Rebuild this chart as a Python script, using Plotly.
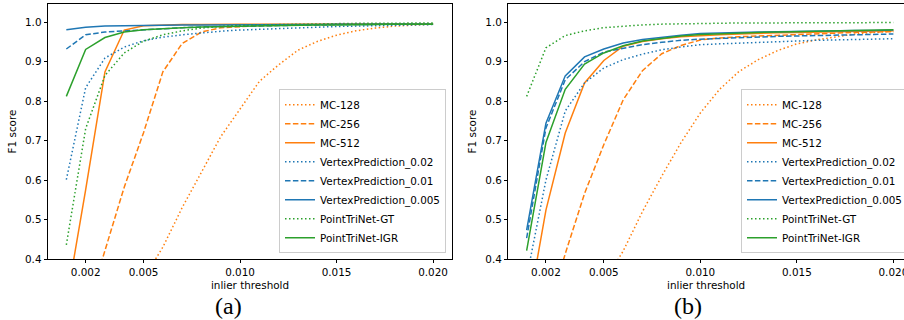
import plotly.graph_objects as go

# ---------------- data ----------------
thresholds = [0.001, 0.002, 0.003, 0.004, 0.005, 0.006, 0.007, 0.008, 0.009, 0.010,
              0.011, 0.012, 0.013, 0.014, 0.015, 0.016, 0.017, 0.018, 0.019, 0.020]

x_tick_vals = [0.002, 0.005, 0.010, 0.015, 0.020]
x_tick_text = ["0.002", "0.005", "0.010", "0.015", "0.020"]
y_tick_vals = [0.4, 0.5, 0.6, 0.7, 0.8, 0.9, 1.0]
y_tick_text = ["0.4", "0.5", "0.6", "0.7", "0.8", "0.9", "1.0"]

series_names = ["MC-128", "MC-256", "MC-512", "VertexPrediction_0.02",
                "VertexPrediction_0.01", "VertexPrediction_0.005",
                "PointTriNet-GT", "PointTriNet-IGR"]

# panel (a)
a_mc128 = [0.09, 0.14, 0.20, 0.27, 0.35, 0.43, 0.53, 0.62, 0.71, 0.78,
           0.85, 0.892, 0.929, 0.951, 0.967, 0.978, 0.985, 0.990, 0.993, 0.995]
a_mc256 = [0.10, 0.26, 0.422, 0.582, 0.72, 0.874, 0.946, 0.975, 0.986, 0.989,
           0.991, 0.992, 0.993, 0.994, 0.994, 0.995, 0.995, 0.995, 0.996, 0.996]
a_mc512 = [0.29, 0.575, 0.874, 0.980, 0.991, 0.993, 0.994, 0.994, 0.995, 0.995,
           0.995, 0.995, 0.995, 0.995, 0.995, 0.995, 0.996, 0.996, 0.996, 0.996]
a_vp002 = [0.601, 0.834, 0.909, 0.937, 0.953, 0.962, 0.968, 0.973, 0.977, 0.980,
           0.982, 0.984, 0.986, 0.988, 0.989, 0.990, 0.991, 0.992, 0.993, 0.994]
a_vp001 = [0.932, 0.968, 0.975, 0.978, 0.981, 0.984, 0.986, 0.988, 0.989, 0.990,
           0.991, 0.992, 0.993, 0.993, 0.994, 0.994, 0.995, 0.995, 0.995, 0.995]
a_vp0005 = [0.981, 0.987, 0.990, 0.991, 0.992, 0.992, 0.993, 0.993, 0.993, 0.994,
            0.994, 0.994, 0.994, 0.994, 0.995, 0.995, 0.995, 0.995, 0.995, 0.995]
a_ptn_gt = [0.436, 0.73, 0.865, 0.922, 0.952, 0.968, 0.978, 0.985, 0.989, 0.992,
            0.993, 0.994, 0.995, 0.996, 0.996, 0.997, 0.997, 0.997, 0.998, 0.998]
a_ptn_igr = [0.812, 0.931, 0.961, 0.975, 0.981, 0.984, 0.986, 0.988, 0.989, 0.990,
             0.991, 0.992, 0.992, 0.993, 0.993, 0.994, 0.994, 0.995, 0.995, 0.995]

# panel (b)
b_mc128 = [0.09, 0.14, 0.20, 0.27, 0.34, 0.42, 0.52, 0.61, 0.695, 0.77,
           0.83, 0.875, 0.905, 0.928, 0.945, 0.955, 0.963, 0.970, 0.974, 0.977]
b_mc256 = [0.09, 0.25, 0.413, 0.566, 0.69, 0.803, 0.877, 0.92, 0.941, 0.955,
           0.960, 0.963, 0.965, 0.967, 0.969, 0.971, 0.972, 0.974, 0.975, 0.976]
b_mc512 = [0.248, 0.524, 0.719, 0.846, 0.903, 0.939, 0.951, 0.958, 0.963, 0.966,
           0.968, 0.970, 0.972, 0.973, 0.974, 0.975, 0.976, 0.977, 0.977, 0.978]
b_vp002 = [0.353, 0.60, 0.775, 0.846, 0.884, 0.905, 0.919, 0.930, 0.937, 0.943,
           0.945, 0.947, 0.949, 0.951, 0.952, 0.954, 0.955, 0.956, 0.957, 0.958]
b_vp001 = [0.453, 0.732, 0.854, 0.900, 0.924, 0.934, 0.943, 0.949, 0.954, 0.957,
           0.959, 0.961, 0.962, 0.964, 0.965, 0.966, 0.967, 0.968, 0.969, 0.970]
b_vp0005 = [0.473, 0.744, 0.864, 0.912, 0.932, 0.947, 0.956, 0.962, 0.967, 0.971,
            0.973, 0.974, 0.975, 0.976, 0.977, 0.978, 0.978, 0.979, 0.979, 0.980]
b_ptn_gt = [0.812, 0.935, 0.966, 0.978, 0.986, 0.990, 0.993, 0.995, 0.996, 0.997,
            0.997, 0.998, 0.998, 0.998, 0.999, 0.999, 0.999, 0.999, 0.999, 0.999]
b_ptn_igr = [0.421, 0.695, 0.830, 0.894, 0.922, 0.940, 0.952, 0.959, 0.965, 0.969,
             0.971, 0.973, 0.974, 0.975, 0.976, 0.977, 0.978, 0.979, 0.980, 0.981]

panel_a = [a_mc128, a_mc256, a_mc512, a_vp002, a_vp001, a_vp0005, a_ptn_gt, a_ptn_igr]
panel_b = [b_mc128, b_mc256, b_mc512, b_vp002, b_vp001, b_vp0005, b_ptn_gt, b_ptn_igr]

# ---------------- styles ----------------
ORANGE, BLUE, GREEN = "#ff7f0e", "#1f77b4", "#2ca02c"
DOT, DASH, SOLID = "1.5px,2.5px", "5.5px,2.4px", "solid"
styles = [(ORANGE, DOT), (ORANGE, DASH), (ORANGE, SOLID),
          (BLUE, DOT), (BLUE, DASH), (BLUE, SOLID),
          (GREEN, DOT), (GREEN, SOLID)]

W, H = 904, 320
FONT = "DejaVu Sans"
FS = 10.4

fig = go.Figure()
for name, ys, (col, dash) in zip(series_names, panel_a, styles):
    fig.add_trace(go.Scatter(x=thresholds, y=ys, mode="lines", name=name,
                             line=dict(color=col, width=1.5, dash=dash),
                             xaxis="x", yaxis="y", legend="legend"))
for name, ys, (col, dash) in zip(series_names, panel_b, styles):
    fig.add_trace(go.Scatter(x=thresholds, y=ys, mode="lines", name=name,
                             line=dict(color=col, width=1.5, dash=dash),
                             xaxis="x2", yaxis="y2", legend="legend2"))

axis_common = dict(showgrid=False, zeroline=False, showline=True, linecolor="black",
                   linewidth=0.8, ticks="outside", ticklen=3.5, tickwidth=0.8,
                   tickcolor="black", tickfont=dict(family=FONT, size=FS, color="black"),
                   ticklabeloverflow="allow")
title_font = dict(family=FONT, size=FS, color="black")

ydom = [(H - 259) / H, (H - 4) / H]
fig.update_layout(
    width=W, height=H,
    margin=dict(l=0, r=0, t=0, b=0, autoexpand=False),
    paper_bgcolor="white", plot_bgcolor="white",
    font=dict(family=FONT, size=FS, color="black"),
    xaxis=dict(domain=[48 / W, 452 / W], range=[0.00005, 0.02098], anchor="y",
               tickvals=x_tick_vals, ticktext=x_tick_text, mirror=True,
               title=dict(text="inlier threshold", standoff=4, font=title_font),
               **axis_common),
    yaxis=dict(domain=ydom, range=[0.4, 1.046], anchor="x",
               tickvals=y_tick_vals, ticktext=y_tick_text, mirror=True,
               title=dict(text="F1 score", standoff=6, font=title_font),
               **axis_common),
    xaxis2=dict(domain=[508.3 / W, 1.0], range=[0.00005, 0.02055], anchor="y2",
                tickvals=x_tick_vals, ticktext=x_tick_text, mirror=True,
                title=dict(text="inlier threshold", standoff=4, font=title_font),
                **axis_common),
    yaxis2=dict(domain=ydom, range=[0.4, 1.046], anchor="x2",
                tickvals=y_tick_vals, ticktext=y_tick_text, mirror=False,
                title=dict(text="F1 score", standoff=6, font=title_font),
                **axis_common),
    legend=dict(x=446 / W, xanchor="right", y=(H - 253.3) / H, yanchor="bottom",
                bgcolor="rgba(255,255,255,0.8)", bordercolor="#cccccc", borderwidth=1,
                font=dict(family=FONT, size=FS, color="black"), tracegroupgap=0),
    legend2=dict(x=741 / W, xanchor="left", y=(H - 253.3) / H, yanchor="bottom",
                 bgcolor="rgba(255,255,255,0.8)", bordercolor="#cccccc", borderwidth=1,
                 font=dict(family=FONT, size=FS, color="black"), tracegroupgap=0),
    annotations=[
        dict(text="(a)", x=229 / W, y=(H - 306) / H, xref="paper", yref="paper",
             xanchor="center", yanchor="middle", showarrow=False,
             font=dict(family="Liberation Serif", size=24, color="black")),
        dict(text="(b)", x=688 / W, y=(H - 306) / H, xref="paper", yref="paper",
             xanchor="center", yanchor="middle", showarrow=False,
             font=dict(family="Liberation Serif", size=24, color="black")),
    ],
)

# remove the default 8px page margin so the figure sits at the window's corner
fig.write_html("out.html",
               config={"displayModeBar": False},
               post_script="document.body.style.margin='0';document.body.style.overflow='hidden';")
